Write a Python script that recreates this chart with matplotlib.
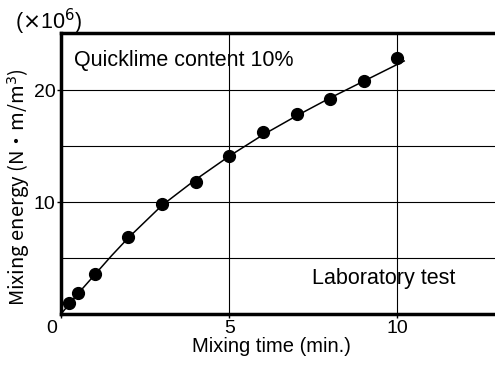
import numpy as np
import matplotlib.pyplot as plt
from matplotlib.transforms import ScaledTranslation

plt.rcParams['font.family'] = ['Liberation Sans', 'DejaVu Sans']

# measured points
time_min = [0.25, 0.5, 1, 2, 3, 4, 5, 6, 7, 8, 9, 10]
energy = [0.95, 1.85, 3.6, 6.9, 9.8, 11.8, 14.1, 16.25, 17.9, 19.2, 20.8, 22.9]

# fitted curve
curve_t = [0, 0.25, 0.5, 1, 1.5, 2, 3, 4, 5, 6, 7, 8, 9, 10.2]
curve_e = [0, 0.9, 1.8, 3.5, 5.2, 6.8, 9.7, 12.0, 14.1, 16.0, 17.7, 19.3, 20.8, 22.6]

fig = plt.figure(figsize=(4.95, 3.65), dpi=100)
ax = fig.add_axes([61/495, 1 - 314/365, 1 - 61/495, (314 - 33)/365])

ax.plot(curve_t, curve_e, color='black', lw=1.1)
ax.plot(time_min, energy, 'o', color='black', ms=8.5)

ax.set_xlim(0, 12.9)
ax.set_ylim(0, 25.1)
ax.set_xticks([0, 5, 10])
ax.set_yticks([10, 20])
ax.set_yticks([5, 15], minor=True)
ax.tick_params(which='both', direction='out', length=3, width=1, labelsize=14, pad=1)
ax.tick_params(axis='y', which='minor', length=0)
ax.grid(True, which='both', color='black', lw=0.8)
ax.set_axisbelow(True)

# the origin "0" sits a bit left of the corner
lab0 = ax.xaxis.get_major_ticks()[0].label1
lab0.set_transform(lab0.get_transform() + ScaledTranslation(-0.09, 0, fig.dpi_scale_trans))

for s in ['left', 'bottom', 'top']:
    ax.spines[s].set_linewidth(2.5)
ax.spines['right'].set_visible(False)

ax.set_xlabel('Mixing time (min.)', fontsize=14.5, va='baseline')
ax.xaxis.set_label_coords(0.486, -0.135)
ax.set_ylabel('Mixing energy (N・m/m$^3$)', fontsize=14.5,
              family=['Noto Sans CJK JP', 'Liberation Sans'])
ax.yaxis.set_label_coords(-0.066, 0.452)
ax.text(0.39, 22.17, 'Quicklime content 10%', fontsize=15.5, va='baseline')
ax.text(7.46, 2.68, 'Laboratory test', fontsize=15.5, va='baseline')
fig.text(15/495, 1 - 22/365, r'($\times$10$^6$)', fontsize=15.5, va='center')

fig.savefig('out.png', dpi=100)
